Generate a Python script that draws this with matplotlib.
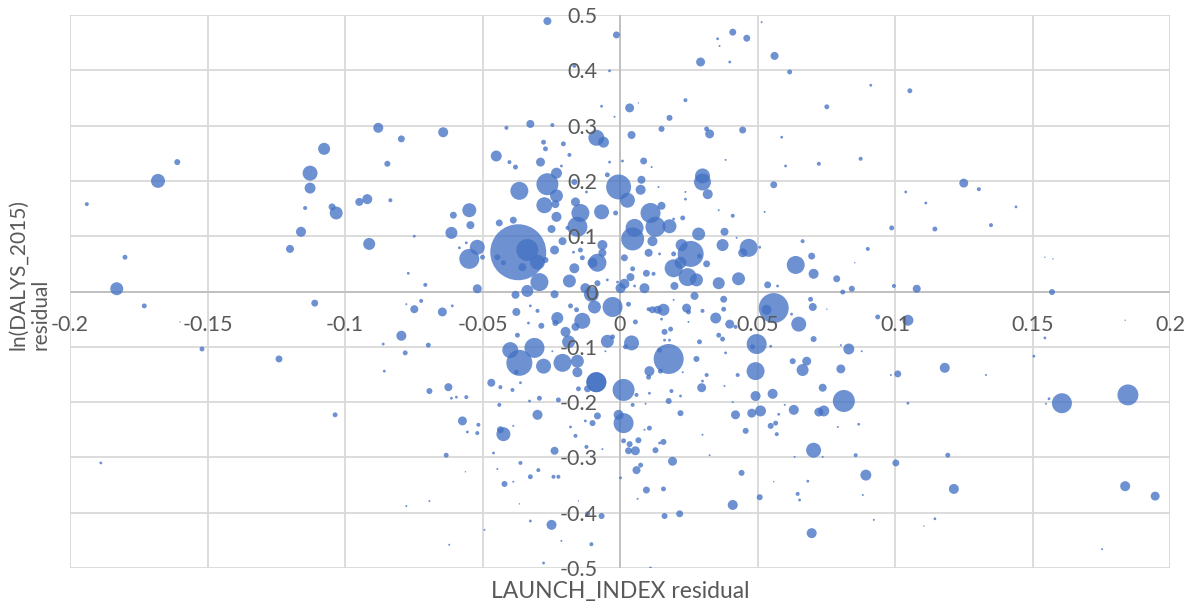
import numpy as np
import matplotlib.pyplot as plt

plt.rcParams['font.family'] = ['Lato', 'DejaVu Sans']
plt.rcParams['axes.unicode_minus'] = False

# residuals per country (x: launch index, y: ln DALYs 2015), bubble = weight
launch_resid = [
    -0.1939, -0.180, -0.183, -0.173, -0.160, -0.152, -0.124, -0.111, -0.120, -0.116,
    -0.1145, -0.1047, -0.1032, -0.168, -0.161, -0.1076, -0.1127, -0.1127, -0.0879, -0.0795,
    -0.0643, -0.0846, -0.0948, -0.0919, -0.0835, -0.0912, -0.0748, -0.077, -0.0708, -0.0777,
    -0.0748, -0.0723, -0.0646, -0.061, -0.0795, -0.0697, -0.0781, -0.0861, -0.0857, -0.1036,
    -0.1888,
    # upper centre-left
    -0.0264, -0.0013, -0.0166, -0.0038, -0.0067, -0.002, -0.0413, -0.0326, -0.0246, -0.0086,
    -0.006, -0.0278, -0.0271, -0.0206, -0.0184, -0.045, -0.0402, -0.038, -0.0289, -0.0213,
    -0.0231, -0.0264, -0.0366, -0.0231, -0.0166, -0.0046, -0.0038, -0.0122, -0.0005, -0.0162,
    # upper centre-right
    0.041, 0.0461, 0.0355, 0.0362, 0.0293, 0.0399, 0.0515, 0.0562, 0.0617, 0.0912,
    0.0752, 0.0035, 0.0067, 0.0238, 0.018, 0.0151, 0.0042, 0.0315, 0.0326, 0.0446,
    0.0588, 0.0086, 0.0115, 0.0009, 0.0384, 0.0602, 0.0723, 0.0875, 0.030, 0.030,
    0.0078, 0.0075, 0.014, 0.0238, 0.0238, 0.0319, 0.0559,
    0.1054, 0.125, 0.1305, 0.1039,
    # dense middle, left of zero
    -0.0548, -0.0606, -0.0544, -0.0613, -0.0439, -0.0388, -0.0275, -0.0235, -0.0231, -0.0144,
    -0.0155, -0.0067, -0.0016, -0.0249, -0.0191, -0.0209, -0.0238, -0.037, -0.0337, -0.030,
    -0.0271, -0.0355, -0.0446, -0.0424, -0.0548, -0.0519, -0.050, -0.0584, -0.0559, -0.0519,
    -0.038, -0.0337, -0.0293, -0.0238, -0.0184, -0.0166, -0.0137, -0.010, -0.0082, -0.0064,
    -0.0064, -0.0144, -0.0169, -0.0126, -0.0104, -0.0082, -0.0046, -0.0009, -0.0027, -0.0093,
    -0.0137, -0.0158, -0.018, -0.0162, -0.0198, -0.0187, -0.0228, -0.0235, -0.0377, -0.0333,
    -0.030, -0.0286, -0.0326, -0.0373, -0.0311, -0.0399, -0.0366, -0.0377, -0.0278, -0.0209,
    -0.0155, -0.0155, -0.0086, -0.0046, -0.0027, -0.0053, -0.0246,
    # dense middle, right of zero
    0.0027, 0.0111, 0.0129, 0.0151, 0.018, 0.0053, 0.0046, 0.0118, 0.0228, 0.0195,
    0.0286, 0.038, 0.041, 0.0359, 0.0526, 0.0468, 0.0446, 0.0373, 0.0508, 0.0424,
    0.0257, 0.0224, 0.022, 0.0195, 0.0246, 0.0278, 0.0315, 0.0289, 0.0195, 0.0144,
    0.0104, 0.0016, 0.0046, 0.0038, 0.0096, 0.0122, 0.0016, 0.0002, 0.0089, 0.0053,
    0.0198, 0.0359, 0.0431, 0.0537, 0.0573, 0.0639, 0.0697, 0.0704, 0.0664, 0.0788,
    0.081, 0.0843, 0.0901, 0.0854, 0.0988, 0.0996, 0.0271, 0.0377, 0.0031, 0.0559,
    0.0533, 0.0693, 0.0701, 0.0242, 0.0249, 0.030, 0.0377, 0.0195, 0.0158, 0.0137,
    0.0118, 0.0104, 0.0151, 0.0056, 0.0348, 0.0249, 0.0399, 0.042, 0.065, 0.0624,
    0.0752, 0.0937, 0.0184, 0.0162, 0.0359, 0.0373, 0.0289, 0.0042, 0.002, 0.0162,
    0.018, 0.0497, 0.0548, 0.0482, 0.0704, 0.0832, 0.0803, 0.0879, 0.0144, 0.0177,
    0.0107, 0.0147, 0.0104, 0.0278, 0.0384, 0.0228, 0.0315, 0.030, 0.0428, 0.0493,
    0.0628, 0.0679, 0.0664, 0.0803, 0.0985, 0.101,
    # right side
    0.1112, 0.1145, 0.1349, 0.144, 0.1079, 0.1545, 0.1574, 0.1571, 0.1047, 0.1545,
    0.1505, 0.1837, 0.1181, 0.1331,
    # lower centre-left
    -0.0693, -0.0624, -0.0613, -0.0595, -0.0559, -0.0468, -0.0435, -0.0391, -0.0362, -0.0439,
    -0.0573, -0.0515, -0.0555, -0.0519, -0.0435, -0.0424, -0.0388, -0.0329, -0.0293, -0.030,
    -0.0224, -0.0151, -0.0118, -0.0082, -0.010, -0.0126, -0.018, -0.0162, -0.0086, -0.0005,
    0.0013, 0.0013, -0.0632, -0.046, -0.0238, -0.0122, -0.0064, -0.0362, -0.0297, -0.0326,
    -0.0242, -0.0224, -0.0446, -0.042, -0.0388, -0.0562, 0.0002, -0.0151, -0.0693, -0.0777,
    -0.0366, -0.0118, -0.0067, -0.0249, -0.0326, -0.0493, -0.0621, -0.0213, -0.0104, -0.0278,
    # lower centre-right
    0.0013, 0.006, 0.0107, 0.0187, 0.022, 0.0177, 0.0093, 0.0046, 0.0297, 0.038,
    0.022, 0.0107, 0.0089, 0.0035, 0.0067, 0.0031, 0.0056, 0.0129, 0.0144, 0.0158,
    0.0191, 0.006, 0.0075, 0.0096, 0.0158, 0.0064, 0.0162, 0.0217, 0.0111, 0.0326,
    0.030, 0.041, 0.042, 0.0457, 0.0479, 0.0511, 0.0493, 0.0555, 0.0442, 0.041,
    0.0508, 0.0599, 0.0577, 0.0566, 0.0548, 0.057, 0.0632, 0.0737, 0.0723, 0.0741,
    0.0814, 0.0868, 0.0792, 0.0704, 0.0635, 0.0737, 0.0857, 0.1003, 0.0894, 0.0683,
    0.0559, 0.0646, 0.0653, 0.0883, 0.0923, 0.0697,
    # lower right
    0.1047, 0.1192, 0.1214, 0.1145, 0.1105, 0.1607, 0.156, 0.1549, 0.1847, 0.1837,
    0.1946, 0.1753,
]

dalys_resid = [
    0.158, 0.062, 0.005, -0.026, -0.055, -0.104, -0.122, -0.021, 0.077, 0.108,
    0.151, 0.153, 0.142, 0.200, 0.234, 0.258, 0.214, 0.187, 0.296, 0.276,
    0.288, 0.231, 0.162, 0.167, 0.165, 0.086, 0.100, 0.033, 0.012, -0.023,
    -0.032, -0.017, -0.037, -0.026, -0.080, -0.097, -0.111, -0.095, -0.144, -0.223,
    -0.310,
    # upper centre-left
    0.489, 0.464, 0.408, 0.399, 0.335, 0.316, 0.296, 0.303, 0.301, 0.278,
    0.270, 0.270, 0.258, 0.267, 0.247, 0.245, 0.234, 0.225, 0.234, 0.227,
    0.214, 0.194, 0.182, 0.173, 0.198, 0.211, 0.234, 0.180, 0.189, 0.162,
    # upper centre-right
    0.469, 0.458, 0.457, 0.444, 0.415, 0.415, 0.487, 0.426, 0.397, 0.373,
    0.334, 0.332, 0.341, 0.346, 0.314, 0.294, 0.283, 0.294, 0.285, 0.292,
    0.279, 0.236, 0.225, 0.236, 0.238, 0.227, 0.231, 0.240, 0.209, 0.198,
    0.202, 0.184, 0.189, 0.180, 0.167, 0.176, 0.193,
    0.363, 0.196, 0.185, 0.180,
    # dense middle, left of zero
    0.147, 0.138, 0.120, 0.106, 0.124, 0.129, 0.156, 0.158, 0.135, 0.142,
    0.117, 0.144, 0.142, 0.113, 0.115, 0.091, 0.075, 0.071, 0.075, 0.053,
    0.057, 0.044, 0.062, 0.052, 0.059, 0.080, 0.062, 0.079, 0.088, 0.005,
    -0.006, 0.001, 0.017, -0.005, 0.019, 0.042, 0.061, 0.052, 0.052, 0.084,
    0.070, 0.075, 0.071, 0.006, -0.005, 0.015, 0.021, 0.017, -0.028, -0.028,
    -0.053, -0.033, -0.026, -0.064, -0.073, -0.091, -0.048, -0.057, -0.037, -0.057,
    -0.035, -0.062, -0.026, -0.079, -0.102, -0.106, -0.129, -0.146, -0.135, -0.129,
    -0.126, -0.146, -0.164, -0.090, -0.082, -0.108, -0.108,
    # dense middle, right of zero
    0.165, 0.142, 0.117, 0.155, 0.118, 0.115, 0.095, 0.091, 0.133, 0.131,
    0.104, 0.108, 0.137, 0.147, 0.144, 0.079, 0.070, 0.084, 0.080, 0.097,
    0.068, 0.084, 0.052, 0.042, 0.026, 0.021, 0.050, 0.064, 0.068, 0.068,
    0.070, 0.061, 0.041, 0.026, 0.033, 0.032, 0.014, 0.006, 0.006, 0.010,
    0.010, 0.015, 0.023, 0.012, 0.010, 0.048, 0.064, 0.032, 0.091, 0.023,
    -0.001, 0.005, 0.077, 0.052, 0.115, 0.010, -0.008, -0.014, -0.023, -0.030,
    -0.033, -0.014, -0.028, -0.030, -0.037, -0.035, -0.032, -0.015, -0.033, -0.033,
    -0.033, -0.032, -0.050, -0.055, -0.048, -0.055, -0.059, -0.064, -0.059, -0.041,
    -0.032, -0.046, -0.068, -0.073, -0.079, -0.086, -0.091, -0.093, -0.100, -0.088,
    -0.088, -0.095, -0.099, -0.100, -0.086, -0.104, -0.097, -0.108, -0.106, -0.122,
    -0.144, -0.144, -0.155, -0.122, -0.111, -0.146, -0.151, -0.162, -0.151, -0.144,
    -0.126, -0.126, -0.142, -0.140, -0.151, -0.149,
    # right side
    0.160, 0.113, 0.120, 0.153, 0.005, 0.062, 0.059, -0.001, -0.052, -0.084,
    -0.117, -0.052, -0.138, -0.151,
    # lower centre-left
    -0.180, -0.173, -0.193, -0.191, -0.191, -0.165, -0.173, -0.178, -0.165, -0.205,
    -0.234, -0.241, -0.254, -0.256, -0.250, -0.258, -0.243, -0.198, -0.193, -0.223,
    -0.196, -0.176, -0.176, -0.225, -0.238, -0.234, -0.245, -0.261, -0.164, -0.223,
    -0.238, -0.270, -0.296, -0.292, -0.288, -0.281, -0.285, -0.310, -0.323, -0.335,
    -0.335, -0.335, -0.321, -0.348, -0.344, -0.326, -0.337, -0.379, -0.379, -0.388,
    -0.384, -0.402, -0.406, -0.422, -0.415, -0.431, -0.458, -0.451, -0.457, -0.491,
    # lower centre-right
    -0.178, -0.187, -0.184, -0.180, -0.189, -0.198, -0.203, -0.205, -0.174, -0.171,
    -0.220, -0.247, -0.250, -0.276, -0.269, -0.288, -0.288, -0.287, -0.274, -0.272,
    -0.307, -0.323, -0.314, -0.359, -0.357, -0.375, -0.406, -0.402, -0.500, -0.296,
    -0.259, -0.200, -0.223, -0.252, -0.220, -0.216, -0.189, -0.185, -0.328, -0.386,
    -0.372, -0.205, -0.222, -0.238, -0.243, -0.258, -0.214, -0.174, -0.218, -0.216,
    -0.198, -0.240, -0.245, -0.287, -0.299, -0.299, -0.296, -0.310, -0.332, -0.343,
    -0.344, -0.366, -0.377, -0.368, -0.413, -0.437,
    # lower right
    -0.202, -0.296, -0.357, -0.411, -0.424, -0.202, -0.194, -0.203, -0.187, -0.352,
    -0.370, -0.466,
]

weight = [
    4, 6, 42, 6, 0.5, 6, 12, 12, 16, 25,
    4, 12, 42, 49, 9, 36, 56, 30, 25, 12,
    25, 9, 16, 25, 4, 36, 2, 2, 4, 1,
    16, 4, 20, 2, 25, 6, 6, 2, 2, 6,
    2,
    # upper centre-left
    16, 12, 4, 2, 2, 1, 4, 16, 4, 64,
    30, 6, 6, 6, 4, 30, 4, 6, 20, 2,
    30, 121, 81, 42, 9, 6, 2, 2, 156, 20,
    # upper centre-right
    12, 12, 2, 1, 20, 2, 1, 16, 6, 2,
    6, 20, 0.5, 4, 9, 9, 16, 6, 20, 12,
    2, 12, 1, 2, 1, 2, 4, 4, 56, 72,
    16, 25, 1, 1, 2, 25, 12,
    6, 20, 4, 2,
    # dense middle, left of zero
    49, 12, 16, 36, 12, 12, 64, 16, 25, 81,
    100, 56, 6, 16, 4, 16, 20, 784, 121, 56,
    9, 16, 9, 6, 100, 56, 6, 2, 2, 20,
    16, 36, 81, 16, 42, 25, 6, 25, 81, 25,
    16, 6, 2, 25, 56, 9, 2, 2, 100, 42,
    64, 6, 6, 16, 25, 42, 36, 9, 16, 2,
    4, 9, 2, 6, 100, 64, 169, 6, 56, 81,
    42, 25, 100, 42, 6, 1, 1,
    # dense middle, right of zero
    56, 100, 100, 16, 49, 81, 132, 25, 6, 2,
    42, 16, 4, 1, 1, 81, 20, 36, 2, 1,
    169, 36, 36, 81, 81, 42, 12, 6, 6, 2,
    16, 12, 6, 16, 12, 4, 25, 25, 25, 2,
    16, 36, 42, 12, 2, 81, 12, 25, 4, 12,
    6, 9, 4, 0.5, 6, 4, 16, 12, 6, 225,
    25, 6, 16, 20, 6, 4, 6, 1, 36, 16,
    12, 4, 2, 6, 30, 1, 20, 4, 56, 2,
    0.5, 6, 6, 9, 6, 6, 6, 56, 6, 2,
    2, 100, 2, 6, 9, 30, 1, 1, 6, 225,
    25, 6, 6, 9, 2, 1, 4, 2, 4, 81,
    9, 20, 36, 20, 1, 12,
    # right side
    2, 6, 4, 2, 16, 0.5, 0.5, 9, 30, 2,
    2, 0.5, 25, 1,
    # lower centre-left
    9, 16, 2, 2, 4, 16, 4, 4, 2, 4,
    20, 4, 2, 4, 12, 49, 1, 2, 6, 25,
    6, 6, 12, 12, 9, 2, 2, 4, 100, 25,
    100, 6, 6, 2, 16, 4, 1, 4, 4, 6,
    4, 4, 1, 9, 1, 0.5, 2, 0.5, 1, 1,
    0.5, 6, 9, 25, 2, 1, 1, 1, 4, 2,
    # lower centre-right
    121, 4, 2, 4, 2, 9, 1, 4, 20, 1,
    9, 6, 1, 9, 9, 12, 20, 9, 2, 9,
    20, 16, 6, 12, 6, 1, 9, 12, 2, 1,
    1, 1, 20, 9, 20, 30, 25, 25, 9, 25,
    9, 1, 2, 6, 9, 4, 25, 16, 20, 30,
    121, 2, 1, 56, 1, 1, 4, 12, 30, 2,
    0.5, 4, 2, 1, 1, 25,
    # lower right
    2, 6, 25, 2, 0.5, 100, 2, 1, 110, 25,
    20, 1,
]

x_ticks = [-0.2, -0.15, -0.1, -0.05, 0, 0.05, 0.1, 0.15, 0.2]
y_ticks = [-0.5, -0.4, -0.3, -0.2, -0.1, 0, 0.1, 0.2, 0.3, 0.4, 0.5]

grid_c = '#d9d9d9'
text_c = '#595959'

fig = plt.figure(figsize=(11.88, 6.06), dpi=100)
ax = fig.add_axes([70 / 1188, 38 / 606, 1100 / 1188, 553 / 606])
ax.set_xlim(-0.2, 0.2)
ax.set_ylim(-0.5, 0.5)

# gridlines and zero axes under the bubbles
for v in x_ticks:
    ax.axvline(v, color=grid_c, lw=1.3, zorder=0)
for v in y_ticks:
    ax.axhline(v, color=grid_c, lw=1.3, zorder=0)
ax.axvline(0, color='#bfbfbf', lw=1.3, zorder=0.5)
ax.axhline(0, color='#bfbfbf', lw=1.3, zorder=0.5)

ax.scatter(launch_resid, dalys_resid, s=np.array(weight) * 2.07,
           color='#4472C4', alpha=0.78, edgecolors='none', zorder=2)

# tick labels sit on the zero axes, like Excel
for side in ['top', 'right']:
    ax.spines[side].set_visible(False)
ax.spines['left'].set_position(('data', 0))
ax.spines['bottom'].set_position(('data', 0))
ax.spines['left'].set_visible(False)
ax.spines['bottom'].set_visible(False)
ax.set_axisbelow(False)

ax.set_xticks(x_ticks)
ax.set_yticks(y_ticks)
ax.set_xticklabels([f'{v:g}' for v in x_ticks])
ax.set_yticklabels([f'{v:g}' for v in y_ticks])
ax.tick_params(axis='x', length=0, labelsize=15.5, labelcolor=text_c, pad=17)
ax.tick_params(axis='y', length=0, labelsize=15.5, labelcolor=text_c, pad=16)

ax.text(0.5, -0.042, 'LAUNCH_INDEX residual', transform=ax.transAxes,
        ha='center', va='center', fontsize=16.5, color=text_c)
ax.text(-0.037, 0.53, 'ln(DALYS_2015)\nresidual', transform=ax.transAxes,
        ha='center', va='center', rotation=90, multialignment='left',
        fontsize=15, color=text_c, linespacing=1.1)

fig.savefig('out.png', dpi=100)
